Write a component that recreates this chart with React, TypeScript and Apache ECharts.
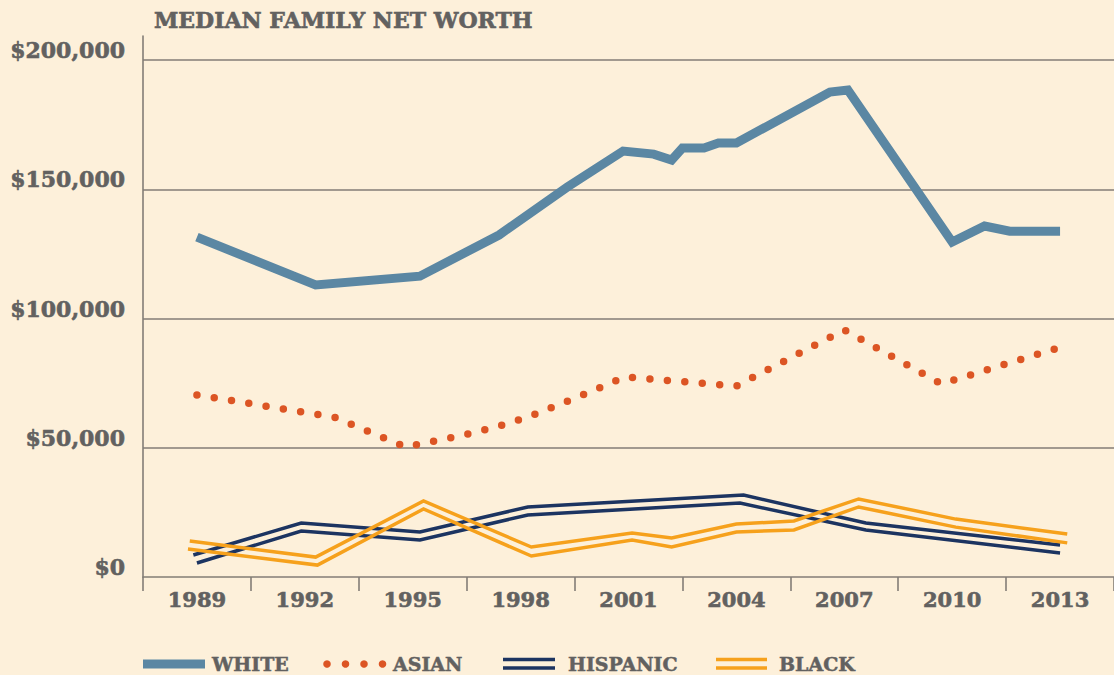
import React, { useEffect, useRef } from "react";
import * as echarts from "echarts";

// ---- data ----
const years = ["1989", "1992", "1995", "1998", "2001", "2004", "2007", "2010", "2013"];
const yTicks = [0, 50000, 100000, 150000, 200000];

// [year position, median family net worth in $]
const white: [number, number][] = [
  [1989.0, 131500], [1992.3, 113000], [1995.2, 116400], [1997.4, 132300],
  [1999.3, 150900], [2000.85, 164800], [2001.7, 163600], [2002.2, 161300],
  [2002.5, 166000], [2003.1, 166000], [2003.5, 167900], [2004.0, 167900],
  [2006.6, 187600], [2007.1, 188400], [2010.0, 129600], [2010.9, 135800],
  [2011.6, 133800], [2013.0, 133800],
];
const asian: [number, number][] = [
  [1989.0, 70400], [1992.8, 61900], [1994.8, 50300], [1995.3, 51800],
  [1996.3, 54500], [1997.3, 58000], [1998.2, 61900], [1999.1, 66900],
  [2000.0, 72000], [2000.9, 77400], [2004.0, 73900], [2007.0, 95600],
  [2009.7, 74700], [2013.2, 89700],
];
const hispanicA: [number, number][] = [
  [1988.9, 8500], [1991.9, 20900], [1995.2, 17400], [1998.2, 27100],
  [2004.2, 31700], [2007.6, 20900], [2013.0, 12400],
];
const hispanicB: [number, number][] = [
  [1989.0, 5400], [1991.9, 17800], [1995.2, 14300], [1998.2, 24000],
  [2004.1, 28600], [2007.6, 18200], [2013.0, 9300],
];
const blackA: [number, number][] = [
  [1988.8, 13900], [1992.3, 7700], [1995.3, 29400], [1998.3, 11600],
  [2001.1, 17000], [2002.2, 15100], [2004.0, 20500], [2005.6, 21700],
  [2007.4, 30200], [2010.1, 22400], [2013.2, 16600],
];
const blackB: [number, number][] = [
  [1988.75, 10800], [1992.35, 4600], [1995.3, 26300], [1998.3, 8100],
  [2001.1, 14300], [2002.2, 11600], [2004.0, 17400], [2005.6, 18200],
  [2007.4, 27100], [2010.1, 19300], [2013.2, 13200],
];
const legendNames = ["WHITE", "ASIAN", "HISPANIC", "BLACK"];

// ---- styles ----
const BG = "#fdf0da";
const TEXT = "#626160";
const GRID = "#837d76";
const C_WHITE = "#5b87a3";
const C_ASIAN = "#dc5524";
const C_HISP = "#1c3461";
const C_BLACK = "#f6a11c";
const FONT = "DejaVu Serif";

export default function App() {
  const ref = useRef<HTMLDivElement>(null);

  useEffect(() => {
    if (!ref.current) return;
    const chart = echarts.init(ref.current, null, { renderer: "svg" });

    const dblLine = (color: string) => ({
      color,
      width: 3.5,
      join: "miter" as const,
      cap: "butt" as const,
    });

    const heavy = { textBorderColor: TEXT, textBorderWidth: 0.6 };

    const legendFont = {
      fontFamily: FONT,
      fontWeight: "bold" as const,
      fontSize: 19,
      fill: TEXT,
      stroke: TEXT,
      lineWidth: 0.5,
      verticalAlign: "middle" as const,
    };
    const LY = 664;

    chart.setOption({
      animation: false,
      backgroundColor: BG,
      title: {
        text: "MEDIAN FAMILY NET WORTH",
        left: 154,
        top: 9,
        padding: 0,
        textStyle: { fontFamily: FONT, fontWeight: "bold", fontSize: 22, color: TEXT, ...heavy },
      },
      grid: { left: 143, right: -4, top: 36, bottom: 98, containLabel: false },
      xAxis: [
        {
          type: "category",
          data: years,
          boundaryGap: true,
          axisLine: { show: true, lineStyle: { color: GRID, width: 1.6 } },
          axisTick: { show: true, length: 14, lineStyle: { color: GRID, width: 1.6 } },
          axisLabel: {
            fontFamily: FONT,
            fontWeight: "bold",
            fontSize: 21,
            color: TEXT,
            margin: 12,
            lineHeight: 21,
            ...heavy,
          },
          splitLine: { show: false },
        },
        {
          type: "value",
          min: 1987.5,
          max: 2014.5,
          show: false,
        },
      ],
      yAxis: {
        type: "value",
        min: 0,
        max: 209300,
        interval: 50000,
        axisLine: { show: true, lineStyle: { color: GRID, width: 1.6 } },
        axisTick: { show: false },
        axisLabel: {
          showMaxLabel: false,
          fontFamily: FONT,
          fontWeight: "bold",
          fontSize: 22,
          color: TEXT,
          margin: 18,
          verticalAlign: "bottom",
          lineHeight: 20,
          ...heavy,
          formatter: (v: number) =>
            yTicks.includes(v) ? "$" + v.toLocaleString("en-US") : "",
        },
        splitLine: {
          show: true,
          showMinLine: false,
          showMaxLine: false,
          lineStyle: { color: GRID, width: 1.6 },
        },
      },
      series: [
        {
          name: "HISPANIC",
          type: "line",
          xAxisIndex: 1,
          data: hispanicA,
          symbol: "none",
          lineStyle: dblLine(C_HISP),
        },
        {
          name: "HISPANIC",
          type: "line",
          xAxisIndex: 1,
          data: hispanicB,
          symbol: "none",
          lineStyle: dblLine(C_HISP),
        },
        {
          name: "BLACK",
          type: "line",
          xAxisIndex: 1,
          data: blackA,
          symbol: "none",
          lineStyle: dblLine(C_BLACK),
        },
        {
          name: "BLACK",
          type: "line",
          xAxisIndex: 1,
          data: blackB,
          symbol: "none",
          lineStyle: dblLine(C_BLACK),
        },
        {
          name: "ASIAN",
          type: "line",
          xAxisIndex: 1,
          data: asian,
          symbol: "none",
          lineStyle: { color: C_ASIAN, width: 7.5, type: [0, 17.5], cap: "round" },
        },
        {
          name: "WHITE",
          type: "line",
          xAxisIndex: 1,
          data: white,
          symbol: "none",
          lineStyle: { color: C_WHITE, width: 9, join: "miter" },
        },
      ],
      graphic: [
        { type: "rect", shape: { x: 143, y: LY - 4.5, width: 62, height: 9 }, style: { fill: C_WHITE } },
        { type: "text", x: 212, y: LY, style: { ...legendFont, text: legendNames[0] } },
        ...[327, 345.5, 364, 382.5].map((cx) => ({
          type: "circle",
          shape: { cx, cy: LY, r: 3.8 },
          style: { fill: C_ASIAN },
        })),
        { type: "text", x: 393, y: LY, style: { ...legendFont, text: legendNames[1] } },
        { type: "line", shape: { x1: 503, y1: LY - 4.5, x2: 555, y2: LY - 4.5 }, style: { stroke: C_HISP, lineWidth: 3.5 } },
        { type: "line", shape: { x1: 503, y1: LY + 4, x2: 555, y2: LY + 4 }, style: { stroke: C_HISP, lineWidth: 3.5 } },
        { type: "text", x: 568, y: LY, style: { ...legendFont, text: legendNames[2] } },
        { type: "line", shape: { x1: 716, y1: LY - 4.5, x2: 767, y2: LY - 4.5 }, style: { stroke: C_BLACK, lineWidth: 3.5 } },
        { type: "line", shape: { x1: 716, y1: LY + 4, x2: 767, y2: LY + 4 }, style: { stroke: C_BLACK, lineWidth: 3.5 } },
        { type: "text", x: 779, y: LY, style: { ...legendFont, text: legendNames[3] } },
      ],
    });

    return () => chart.dispose();
  }, []);

  return (
    <div
      ref={ref}
      style={{ position: "absolute", left: 0, top: 0, width: 1114, height: 675, background: BG }}
    />
  );
}
